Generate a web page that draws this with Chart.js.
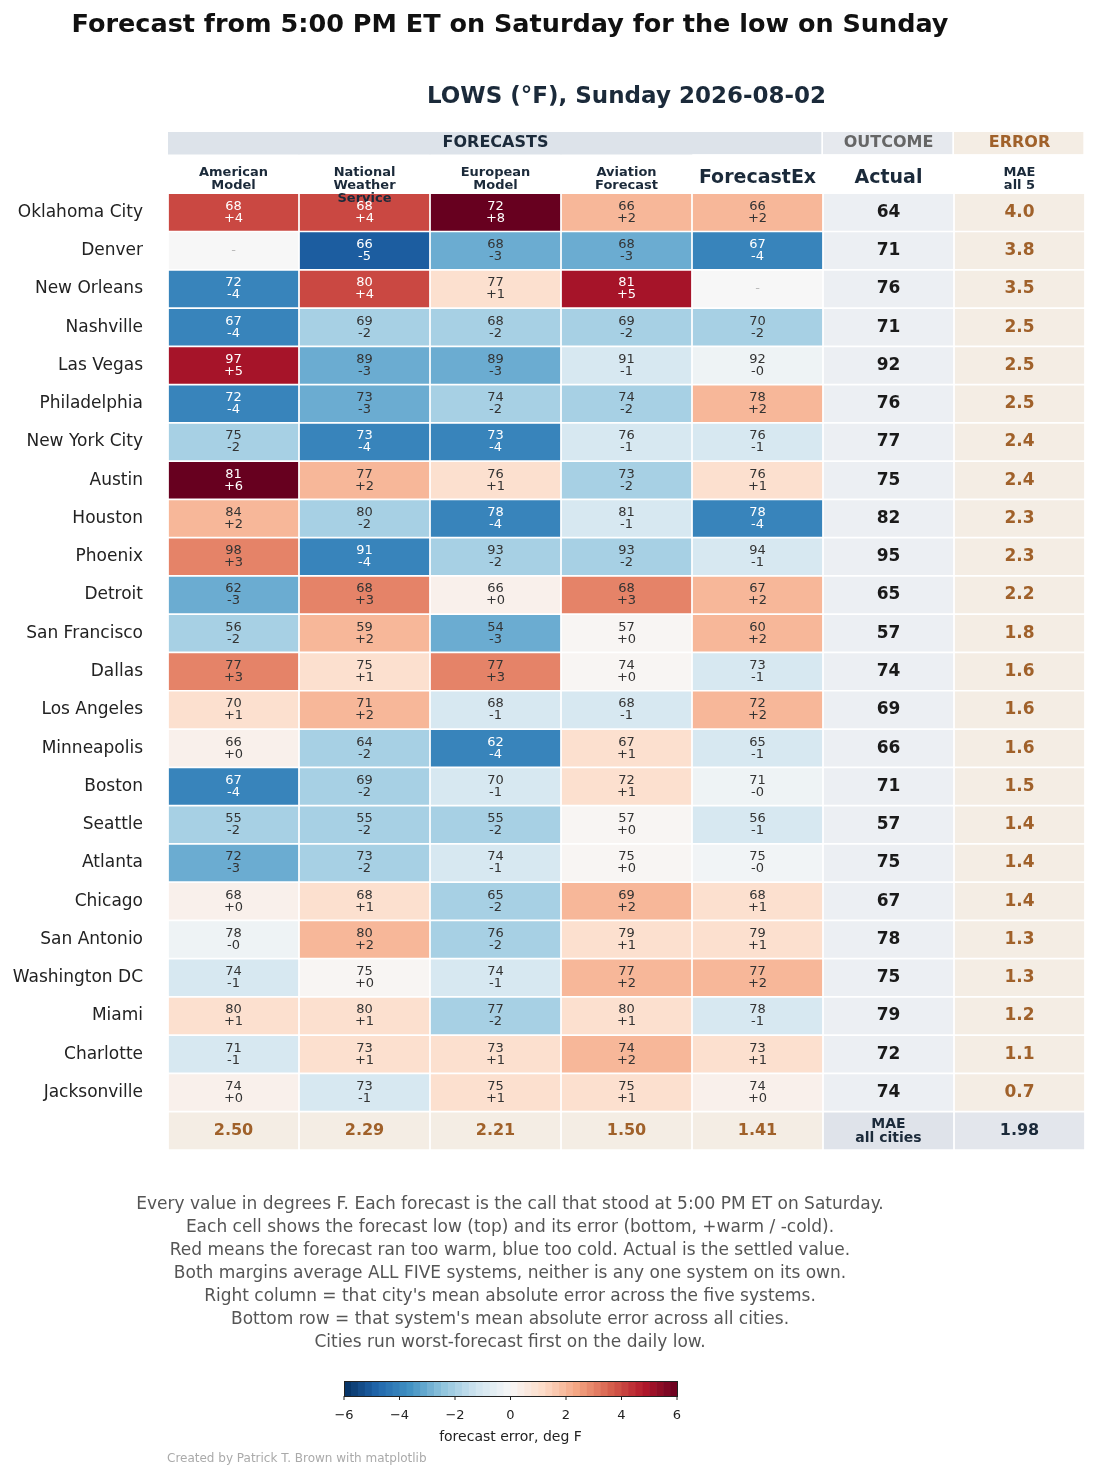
<!DOCTYPE html>
<html><head><meta charset="utf-8">
<script src="https://cdn.jsdelivr.net/npm/chart.js@4"></script>
<style>
body{margin:0;background:#fff;font-family:"DejaVu Sans",sans-serif;}
#wrap{position:relative;width:1100px;height:1479px;}
canvas{position:absolute;left:0;top:0;}
.t{position:absolute;white-space:nowrap;}
</style></head><body>
<div id="wrap">
<canvas id="c" width="1100" height="1479"></canvas>
<div class="t" style="left:0;width:1020px;top:8px;text-align:center;font-weight:bold;font-size:25.5px;color:#111;">Forecast from 5:00 PM ET on Saturday for the low on Sunday</div>
<div class="t" style="left:168px;width:917px;top:82px;text-align:center;font-weight:bold;font-size:23px;color:#1b2a3a;">LOWS (°F), Sunday 2026-08-02</div>
<div class="t" style="left:0;width:1020px;top:1192px;text-align:center;font-size:17px;line-height:23px;color:#555;">
Every value in degrees F. Each forecast is the call that stood at 5:00 PM ET on Saturday.<br>
Each cell shows the forecast low (top) and its error (bottom, +warm / -cold).<br>
Red means the forecast ran too warm, blue too cold. Actual is the settled value.<br>
Both margins average ALL FIVE systems, neither is any one system on its own.<br>
Right column = that city's mean absolute error across the five systems.<br>
Bottom row = that system's mean absolute error across all cities.<br>
Cities run worst-forecast first on the daily low.</div>
<div class="t" style="left:167px;top:1451px;font-size:12px;color:#aaa;">Created by Patrick T. Brown with matplotlib</div>
</div>
<script>
const cities=["Oklahoma City","Denver","New Orleans","Nashville","Las Vegas","Philadelphia","New York City","Austin","Houston","Phoenix","Detroit","San Francisco","Dallas","Los Angeles","Minneapolis","Boston","Seattle","Atlanta","Chicago","San Antonio","Washington DC","Miami","Charlotte","Jacksonville"];
const systems=["American\nModel","National\nWeather\nService","European\nModel","Aviation\nForecast","ForecastEx"];
const forecasts=[
[68,68,72,66,66],[null,66,68,68,67],[72,80,77,81,null],[67,69,68,69,70],[97,89,89,91,92],
[72,73,74,74,78],[75,73,73,76,76],[81,77,76,73,76],[84,80,78,81,78],[98,91,93,93,94],
[62,68,66,68,67],[56,59,54,57,60],[77,75,77,74,73],[70,71,68,68,72],[66,64,62,67,65],
[67,69,70,72,71],[55,55,55,57,56],[72,73,74,75,75],[68,68,65,69,68],[78,80,76,79,79],
[74,75,74,77,77],[80,80,77,80,78],[71,73,73,74,73],[74,73,75,75,74]];
const errors=[
[4,4,8,2,2],[null,-5,-3,-3,-4],[-4,4,1,5,null],[-4,-2,-2,-2,-2],[5,-3,-3,-1,-0.3],
[-4,-3,-2,-2,2],[-2,-4,-4,-1,-1],[6,2,1,-2,1],[2,-2,-4,-1,-4],[3,-4,-2,-2,-1],
[-3,3,0.3,3,2],[-2,2,-3,0.1,2],[3,1,3,0.1,-1],[1,2,-1,-1,2],[0.3,-2,-4,1,-1],
[-4,-2,-1,1,-0.3],[-2,-2,-2,0.1,-1],[-3,-2,-1,0.1,-0.2],[0.3,1,-2,2,1],[-0.3,2,-2,1,1],
[-1,0.1,-1,2,2],[1,1,-2,1,-1],[-1,1,1,2,1],[0.3,-1,1,1,0.3]];
const actuals=[64,71,76,71,92,76,77,75,82,95,65,57,74,69,66,71,57,75,67,78,75,79,72,74];
const cityMAE=["4.0","3.8","3.5","2.5","2.5","2.5","2.4","2.4","2.3","2.3","2.2","1.8","1.6","1.6","1.6","1.5","1.4","1.4","1.4","1.3","1.3","1.2","1.1","0.7"];
const systemMAE=["2.50","2.29","2.21","1.50","1.41"];
const overallMAE="1.98";
const cbTicks=[-6,-4,-2,0,2,4,6];

const stops=["#053061","#2166ac","#4393c3","#92c5de","#d1e5f0","#f7f7f7","#fddbc7","#f4a582","#d6604d","#b2182b","#67001f"];
function hex(h){return [1,3,5].map(i=>parseInt(h.substr(i,2),16));}
function cmap(v){let t=Math.max(0,Math.min(1,(v+6)/12))*10;let i=Math.min(9,Math.floor(t)),f=t-i;
 const a=hex(stops[i]),b=hex(stops[i+1]);return `rgb(${a.map((x,k)=>Math.round(x+(b[k]-x)*f)).join(",")})`;}
const ACT="#eceff3",ERRBG="#f4ede4",BROWN="#a0612a";
const colLabels=["c0","c1","c2","c3","c4","actual","error"];
const datasets=[];
datasets.push({data:colLabels.map(()=>[-2.1,-1.52]),backgroundColor:["#dde3ea","#dde3ea","#dde3ea","#dde3ea","#dde3ea","#e6e9ee",ERRBG],
 borderColor:"#fff",borderWidth:c=>c.dataIndex>=4?{right:2,left:0,top:0,bottom:0}:0,borderSkipped:false,kind:"hdr"});
cities.forEach((c,r)=>{
 const bg=[];for(let j=0;j<5;j++){const e=errors[r][j];bg.push(e===null?"#f7f7f7":cmap(e));}
 bg.push(ACT,ERRBG);
 datasets.push({data:colLabels.map(()=>[r-0.5,r+0.5]),backgroundColor:bg,borderColor:"#fff",borderWidth:1.2,borderSkipped:false,kind:"row",row:r});
});
datasets.push({data:colLabels.map(()=>[23.5,24.5]),backgroundColor:[ERRBG,ERRBG,ERRBG,ERRBG,ERRBG,"#dfe3ea","#e3e6ec"],borderColor:"#fff",borderWidth:1.2,borderSkipped:false,kind:"bot"});

function fmtErr(e){const r=Math.round(Math.abs(e));return (e<0?"-":"+")+r;}
const textPlugin={id:"txt",afterDatasetsDraw(ch){
 const ctx=ch.ctx,xs=ch.scales.x,ys=ch.scales.y;const F='"DejaVu Sans", sans-serif';
 ctx.save();ctx.textAlign="center";ctx.textBaseline="middle";
 const cx=j=>xs.getPixelForValue(j),cy=v=>ys.getPixelForValue(v);
 ctx.font="bold 16px "+F;
 ctx.fillStyle="#1b2a3a";ctx.fillText("FORECASTS",(cx(0)+cx(4))/2,cy(-1.81));
 ctx.fillStyle="#666";ctx.fillText("OUTCOME",cx(5),cy(-1.81));
 ctx.fillStyle=BROWN;ctx.fillText("ERROR",cx(6),cy(-1.81));
 systems.forEach((s,j)=>{
  ctx.fillStyle="#1b2a3a";
  if(!s.includes("\n")){ctx.font="bold 19px "+F;ctx.fillText(s,cx(j),cy(-1)+4);return;}
  const ls=s.split("\n");ctx.font="bold 13px "+F;
  const y0=cy(-0.5)-8-(ls.length-1)*13;
  ls.forEach((l,k)=>ctx.fillText(l,cx(j),y0+k*13+(ls.length>2?13:0)));
 });
 ctx.font="bold 19px "+F;ctx.fillText("Actual",cx(5),cy(-1)+4);
 ctx.font="bold 13px "+F;ctx.fillText("MAE",cx(6),cy(-1)-1);ctx.fillText("all 5",cx(6),cy(-1)+12);
 cities.forEach((c,r)=>{
  const y=cy(r);
  ctx.textAlign="right";ctx.fillStyle="#222";ctx.font="17px "+F;ctx.fillText(c,143,y);
  ctx.textAlign="center";
  for(let j=0;j<5;j++){
   const f=forecasts[r][j],e=errors[r][j];ctx.font="13px "+F;
   if(f===null){ctx.fillStyle="#bbb";ctx.fillText("-",cx(j),y);continue;}
   ctx.fillStyle=Math.abs(e)>=4?"#fff":"#333";
   ctx.fillText(String(f),cx(j),y-6);ctx.fillText(fmtErr(e),cx(j),y+6);
  }
  ctx.font="bold 17px "+F;ctx.fillStyle="#1a1a1a";ctx.fillText(String(actuals[r]),cx(5),y);
  ctx.fillStyle=BROWN;ctx.fillText(cityMAE[r],cx(6),y);
 });
 const yb=cy(24);ctx.font="bold 16px "+F;ctx.fillStyle=BROWN;
 systemMAE.forEach((m,j)=>ctx.fillText(m,cx(j),yb));
 ctx.fillStyle="#1b2a3a";ctx.font="bold 14px "+F;ctx.fillText("MAE",cx(5),yb-7);ctx.fillText("all cities",cx(5),yb+7);
 ctx.font="bold 16px "+F;ctx.fillText(overallMAE,cx(6),yb);
 const bx0=344,bx1=677,by0=1381,by1=1396,n=48;
 for(let i=0;i<n;i++){ctx.fillStyle=cmap(-6+12*(i+0.5)/n);const a=bx0+(bx1-bx0)*i/n;ctx.fillRect(a,by0,(bx1-bx0)/n+0.6,by1-by0);}
 ctx.strokeStyle="#222";ctx.lineWidth=1;ctx.strokeRect(bx0+0.5,by0+0.5,bx1-bx0,by1-by0);
 ctx.fillStyle="#222";ctx.font="13px "+F;
 cbTicks.forEach(t=>{const x=bx0+(bx1-bx0)*(t+6)/12;ctx.beginPath();ctx.moveTo(x,by1);ctx.lineTo(x,by1+4);ctx.stroke();
  ctx.fillText(t<0?"\u2212"+Math.abs(t):String(t),x,by1+20);});
 ctx.font="14px "+F;ctx.fillText("forecast error, deg F",(bx0+bx1)/2,1437);
 ctx.restore();
}};
new Chart(document.getElementById("c"),{type:"bar",
 data:{labels:colLabels,datasets:datasets.map(d=>Object.assign(d,{grouped:false,barPercentage:1,categoryPercentage:1}))},
 options:{responsive:false,animation:false,events:[],
  layout:{padding:{left:168,right:15,top:132,bottom:329}},
  plugins:{legend:{display:false},tooltip:{enabled:false}},
  scales:{x:{display:false,offset:true},y:{display:false,min:-2.1,max:24.5,reverse:true}}},
 plugins:[textPlugin]});
</script></body></html>
